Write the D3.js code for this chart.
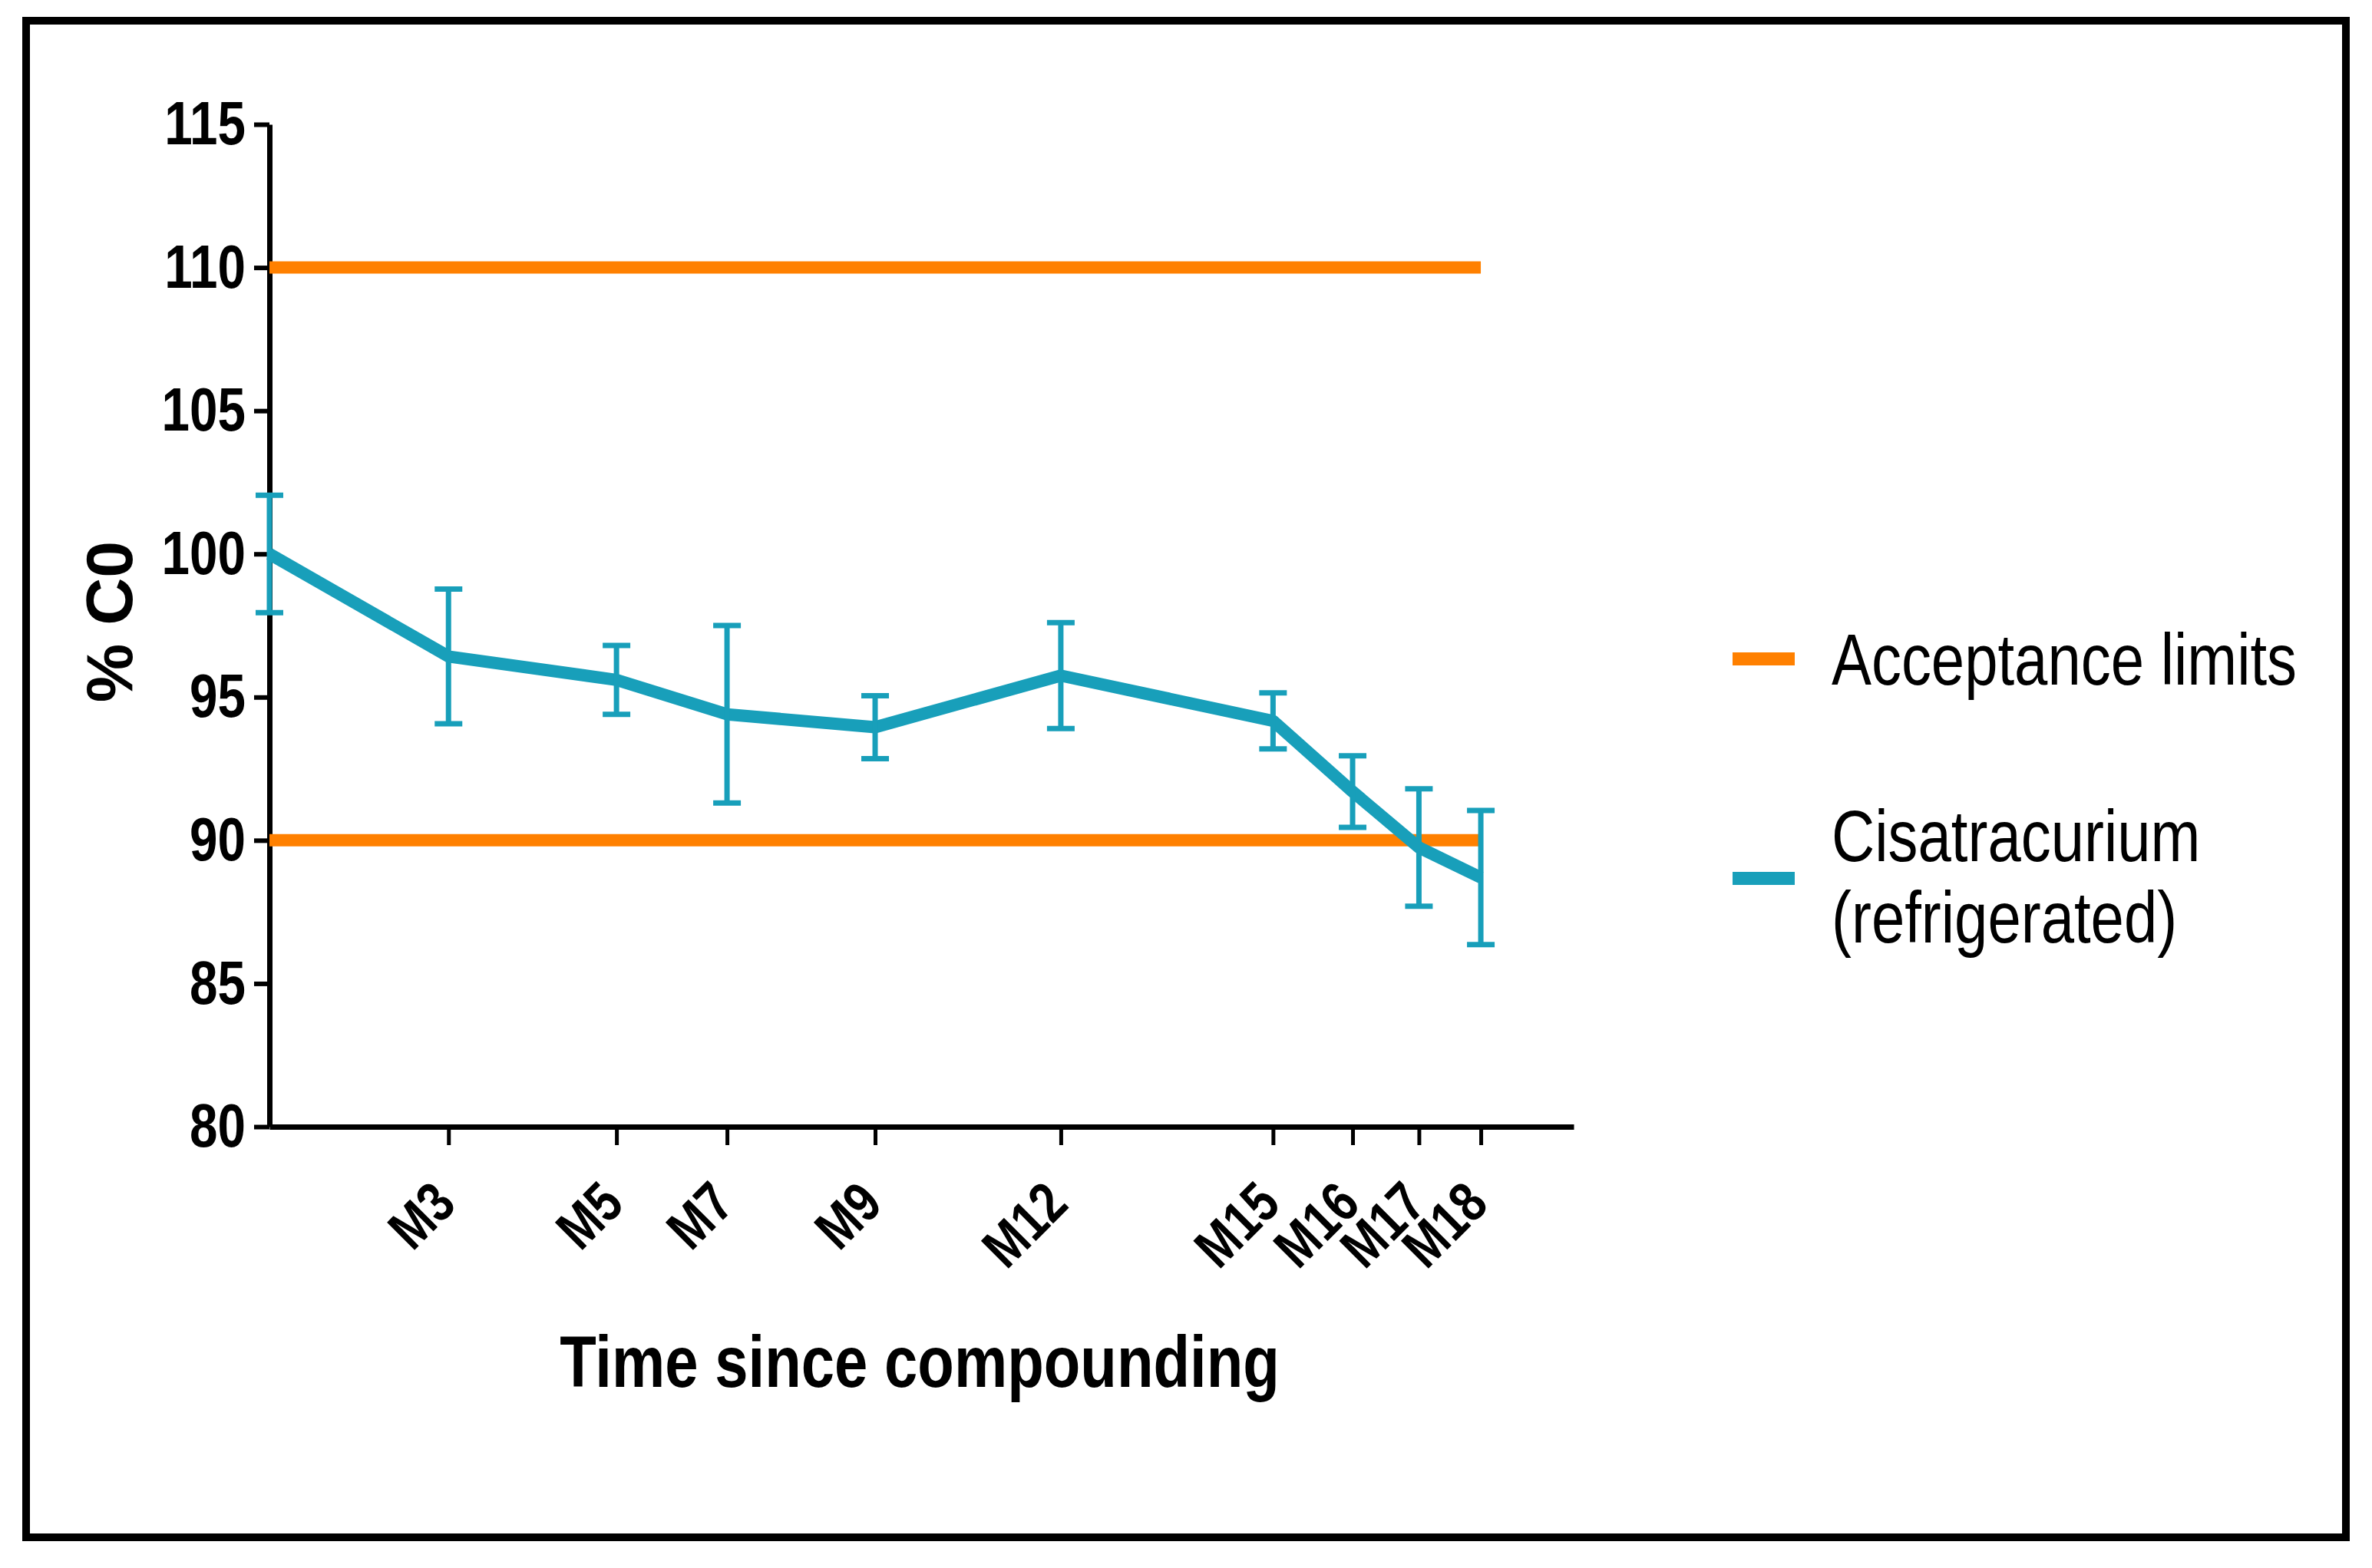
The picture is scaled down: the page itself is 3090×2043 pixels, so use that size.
<!DOCTYPE html>
<html>
<head>
<meta charset="utf-8">
<script src="https://cdn.jsdelivr.net/npm/d3@7"></script>
<style>
  body { margin: 0; background: #fff; }
  svg { display: block; }
</style>
</head>
<body>
<svg width="3090" height="2043"></svg>
<script>
// sampling times (days since compounding) and measured % of initial concentration
const days = [0, 81, 157, 207, 274, 358, 454, 490, 520, 548]
const meanPct = [100, 96.42, 95.6, 94.4, 93.95, 95.75, 94.17, 91.7, 89.75, 88.7]
const sdPct = [2.05, 2.35, 1.2, 3.1, 1.1, 1.85, 0.98, 1.25, 2.05, 2.34]

const tickDays = [81, 157, 207, 274, 358, 454, 490, 520, 548]
const tickLabels = ['M3', 'M5', 'M7', 'M9', 'M12', 'M15', 'M16', 'M17', 'M18']
const yTicks = [80, 85, 90, 95, 100, 105, 110, 115]
const limits = [110, 90]
const limitEnd = 548
const legendLabels = [['Acceptance limits'], ['Cisatracurium', '(refrigerated)']]

const orange = '#ff8000'
const blue = '#189fba'
const font = "'Liberation Sans', Arial, sans-serif"
const squeeze = 0.82   // the original uses a narrow face, no narrow font here

const svg = d3.select('svg')
const x = d3.scaleLinear().domain([0, 590]).range([351, 2050])
const y = d3.scaleLinear().domain([80, 115]).range([1468, 162])

// frame
svg.append('rect')
  .attr('x', 34).attr('y', 27)
  .attr('width', 3022).attr('height', 1976)
  .attr('fill', 'none').attr('stroke', '#000').attr('stroke-width', 10)

// axes
const yAxis = svg.append('g')
  .attr('transform', 'translate(' + x(0) + ',0)')
  .call(d3.axisLeft(y).tickValues(yTicks).tickSize(20).tickPadding(11).tickSizeOuter(0))
yAxis.select('.domain').attr('stroke-width', 7)
yAxis.selectAll('.tick line').attr('stroke-width', 6)
yAxis.selectAll('.tick text')
  .attr('font-family', font).attr('font-weight', 'bold').attr('font-size', 80).attr('fill', '#000')
  .attr('x', -31 / squeeze)
  .attr('transform', 'scale(' + squeeze + ',1)')

const xAxis = svg.append('g')
  .attr('transform', 'translate(0,' + y(80) + ')')
  .call(d3.axisBottom(x).tickValues(tickDays).tickFormat((d, i) => tickLabels[i]).tickSize(24).tickSizeOuter(0))
xAxis.select('.domain').attr('stroke-width', 7)
xAxis.selectAll('.tick line').attr('stroke-width', 5)
xAxis.selectAll('.tick text')
  .attr('font-family', font).attr('font-weight', 'bold').attr('font-size', 74).attr('fill', '#000')
  .attr('text-anchor', 'end').attr('x', 0).attr('y', 0).attr('dy', 0)
  .attr('transform', 'translate(12,104) rotate(-45) scale(' + squeeze + ',1)')

// acceptance limits
svg.append('g')
  .selectAll('line')
  .data(limits)
  .join('line')
  .attr('x1', x(0)).attr('x2', x(limitEnd))
  .attr('y1', d => y(d)).attr('y2', d => y(d))
  .attr('stroke', orange).attr('stroke-width', 16)

// mean line
const points = days.map((d, i) => ({ t: d, m: meanPct[i], sd: sdPct[i] }))
svg.append('path')
  .datum(points)
  .attr('fill', 'none').attr('stroke', blue).attr('stroke-width', 16)
  .attr('stroke-linejoin', 'round')
  .attr('d', d3.line().x(p => x(p.t)).y(p => y(p.m)))

// error bars
const bars = svg.append('g').attr('stroke', blue).attr('stroke-width', 7)
  .selectAll('g').data(points).join('g')
bars.append('line')
  .attr('x1', p => x(p.t)).attr('x2', p => x(p.t))
  .attr('y1', p => y(p.m - p.sd)).attr('y2', p => y(p.m + p.sd))
bars.selectAll('.cap')
  .data(p => [[p.t, p.m - p.sd], [p.t, p.m + p.sd]])
  .join('line')
  .attr('class', 'cap')
  .attr('x1', c => x(c[0]) - 18).attr('x2', c => x(c[0]) + 18)
  .attr('y1', c => y(c[1])).attr('y2', c => y(c[1]))

// axis titles
svg.append('text')
  .attr('transform', 'translate(172,810) rotate(-90)')
  .attr('text-anchor', 'middle')
  .attr('font-family', font).attr('font-weight', 'bold').attr('font-size', 86)
  .text('% C0')

svg.append('text')
  .attr('transform', 'translate(1198,1807) scale(' + squeeze + ',1)')
  .attr('text-anchor', 'middle')
  .attr('font-family', font).attr('font-weight', 'bold').attr('font-size', 95)
  .text('Time since compounding')

// legend
const legend = svg.append('g')
  .selectAll('g')
  .data(legendLabels)
  .join('g')
  .attr('transform', (d, i) => 'translate(2257,' + [850, 1136][i] + ')')
legend.append('rect')
  .attr('width', 81).attr('height', 17)
  .attr('fill', (d, i) => [orange, blue][i])
legend.selectAll('text')
  .data(d => d)
  .join('text')
  .attr('transform', (t, j, nodes) =>
    'translate(129,' + (nodes.length > 1 ? -14 + j * 106 : 42) + ') scale(' + squeeze + ',1)')
  .attr('font-family', font).attr('font-size', 95)
  .text(t => t)
</script>
</body>
</html>
